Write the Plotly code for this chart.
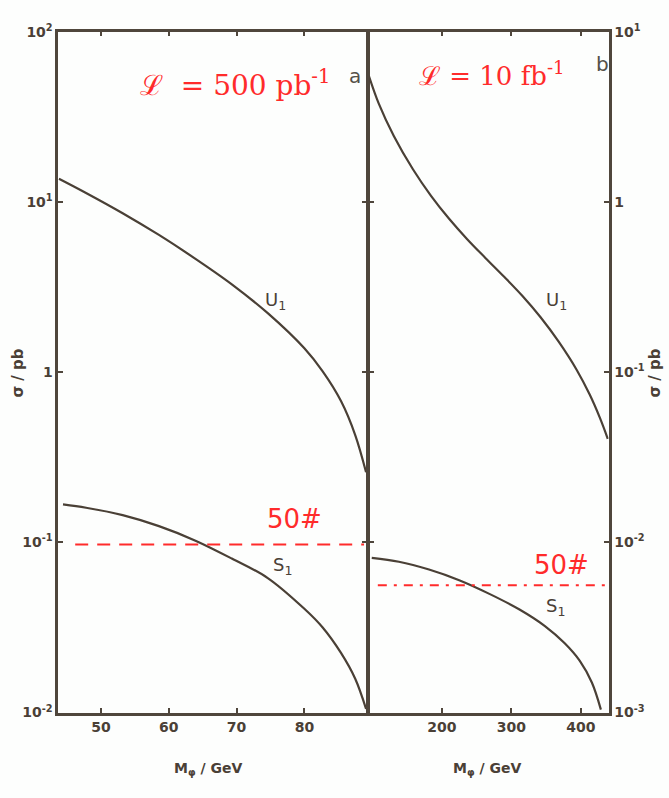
import plotly.graph_objects as go

# ---------------- data ----------------
# Panel a (L = 500 pb^-1), M_phi in GeV, sigma in pb
m_u1_a = [43.8, 47.8, 53.2, 58.55, 63.94, 69.3, 74.6, 80.0, 82.7, 85.4, 87.5, 89.1]
s_u1_a = [13.7, 11.3, 8.59, 6.40, 4.63, 3.28, 2.22, 1.38, 1.01, 0.676, 0.427, 0.258]

m_s1_a = [44.4, 47.8, 53.2, 58.55, 63.94, 69.3, 74.6, 80.0, 82.7, 85.4, 87.5, 89.1]
s_s1_a = [0.167, 0.1596, 0.1445, 0.1245, 0.1023, 0.0803, 0.0617, 0.0407, 0.0316, 0.0224, 0.0158, 0.0105]

# Panel b (L = 10 fb^-1)
m_u1_b = [95, 109.4, 131, 158.5, 184.5, 210.5, 236.5, 262.6, 290, 316, 342, 368, 394, 412.6, 427, 438.6]
s_u1_b = [5.53, 3.78, 2.44, 1.556, 1.086, 0.796, 0.604, 0.469, 0.362, 0.280, 0.210, 0.151, 0.103, 0.0738, 0.0542, 0.0406]

m_s1_b = [99.3, 138.3, 181.6, 225, 268.4, 311.7, 347.8, 376.7, 398.4, 415.7, 428.7]
s_s1_b = [0.0081, 0.00769, 0.00692, 0.00599, 0.00498, 0.00403, 0.00323, 0.00255, 0.00201, 0.0015, 0.00104]

# 50-event limits (hand drawn dashed lines)
limit_a_x = [46.2, 88.8]
limit_a_y = [0.097, 0.097]
limit_b_x = [108, 436]
limit_b_y = [0.0056, 0.0056]

# axis ticks
xt_a_vals = [50, 60, 70, 80]
xt_a_text = ["50", "60", "70", "80"]
xt_b_vals = [200, 300, 400]
xt_b_text = ["200", "300", "400"]
yt_a_vals = [100, 10, 1, 0.1, 0.01]
yt_a_text = ["10<sup>2</sup>", "10<sup>1</sup>", "1", "10<sup>-1</sup>", "10<sup>-2</sup>"]
yt_b_vals = [10, 1, 0.1, 0.01, 0.001]
yt_b_text = ["10<sup>1</sup>", "1", "10<sup>-1</sup>", "10<sup>-2</sup>", "10<sup>-3</sup>"]

# ---------------- style ----------------
W, H = 669, 798
INK = "#4a4036"
FRAME = "#4f463c"
RED = "#ff2b2b"
FONT = "DejaVu Sans"
LW = 2.5

def px(x):
    return x / W

def py(y):
    return 1 - y / H

left_dom = [px(57 + LW / 2), px(368 - LW / 2)]
right_dom = [px(368 + LW / 2), px(610 - LW / 2)]
ydom = [py(720 - LW / 2), py(21 + LW / 2)]

fig = go.Figure()

curve = dict(color=INK, width=2.2, shape="spline", smoothing=1.0)
fig.add_trace(go.Scatter(x=m_u1_a, y=s_u1_a, mode="lines", line=curve, xaxis="x", yaxis="y"))
fig.add_trace(go.Scatter(x=m_s1_a, y=s_s1_a, mode="lines", line=curve, xaxis="x", yaxis="y"))
fig.add_trace(go.Scatter(x=m_u1_b, y=s_u1_b, mode="lines", line=curve, xaxis="x2", yaxis="y2"))
fig.add_trace(go.Scatter(x=m_s1_b, y=s_s1_b, mode="lines", line=curve, xaxis="x2", yaxis="y2"))
fig.add_trace(go.Scatter(x=limit_a_x, y=limit_a_y, mode="lines",
                         line=dict(color=RED, width=2, dash="13px,9px"), xaxis="x", yaxis="y"))
fig.add_trace(go.Scatter(x=limit_b_x, y=limit_b_y, mode="lines",
                         line=dict(color=RED, width=2, dash="9px,7px,3px,7px"), xaxis="x2", yaxis="y2"))

tickfont = dict(family=FONT, size=14, color=INK, weight="bold")
common_ax = dict(showgrid=False, zeroline=False, showline=True, linecolor=FRAME, linewidth=LW,
                 ticks="inside", ticklen=5, tickwidth=1.5, tickcolor=FRAME, mirror="ticks",
                 tickfont=tickfont)

fig.update_layout(
    width=W, height=H,
    margin=dict(l=0, r=0, t=0, b=0),
    paper_bgcolor="#fdfefd",
    plot_bgcolor="#fdfefd",
    showlegend=False,
    xaxis=dict(common_ax, domain=left_dom, range=[43.7, 89.2], tickvals=xt_a_vals, ticktext=xt_a_text,
               anchor="y"),
    yaxis=dict(common_ax, domain=ydom, type="log", range=[-2, 2], tickvals=yt_a_vals, ticktext=yt_a_text,
               anchor="x"),
    xaxis2=dict(common_ax, domain=right_dom, range=[95.7, 440], tickvals=xt_b_vals, ticktext=xt_b_text,
                anchor="y2"),
    yaxis2=dict(common_ax, domain=ydom, type="log", range=[-3, 1], tickvals=yt_b_vals, ticktext=yt_b_text,
                anchor="x2", side="right"),
)

ann = []
def txt(x, y, text, size=15, color=INK, angle=0, family=FONT, xref="paper", yref="paper", weight="normal"):
    ann.append(dict(x=x, y=y, xref=xref, yref=yref, text=text, showarrow=False,
                    font=dict(family=family, size=size, color=color, weight=weight), textangle=angle,
                    xanchor="center", yanchor="middle"))

# axis titles
txt(px(208), py(777), "M<sub>φ</sub> / GeV", size=14, weight="bold")
txt(px(487), py(777), "M<sub>φ</sub> / GeV", size=14, weight="bold")
txt(px(18), py(372), "σ / pb", size=15, angle=-90, weight="bold")
txt(px(655), py(372), "σ / pb", size=15, angle=-90, weight="bold")

# curve labels
txt(75.7, 0.419, "U<sub>1</sub>", size=18, xref="x", yref="y")
txt(76.7, -1.137, "S<sub>1</sub>", size=18, xref="x", yref="y")
txt(365, -0.581, "U<sub>1</sub>", size=18, xref="x2", yref="y2")
txt(364, -2.377, "S<sub>1</sub>", size=18, xref="x2", yref="y2")

# panel letters
txt(px(355), py(68), "a", size=20, color="#555048")
txt(px(602), py(55), "b", size=20, color="#555048")

# hand-written red annotations
txt(px(235), py(75), "ℒ  = 500 pb<sup>-1</sup>", size=28, color=RED, family="DejaVu Serif")
txt(px(492), py(65), "ℒ = 10 fb<sup>-1</sup>", size=26, color=RED, family="DejaVu Serif")
txt(78.6, -0.863, "50#", size=26, color=RED, xref="x", yref="y")
txt(372, -2.131, "50#", size=26, color=RED, xref="x2", yref="y2")

fig.update_layout(annotations=ann)

fig.write_html("out.html")
